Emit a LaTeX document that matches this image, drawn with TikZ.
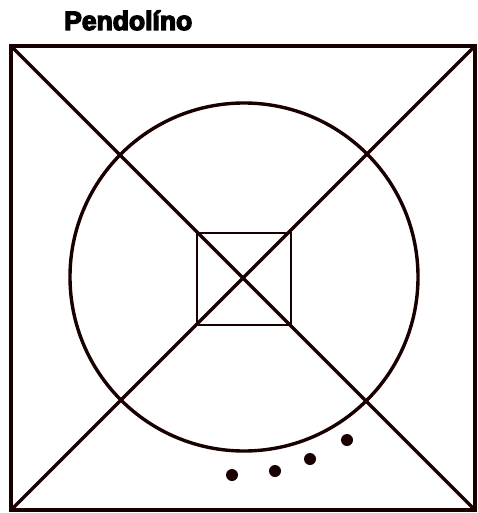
\documentclass[tikz,border=0pt]{standalone}
\usepackage{fontspec}
\setmainfont{Liberation Sans}
\newfontfamily\titlefont[FakeBold=5]{Liberation Sans Bold}
\begin{document}
\begin{tikzpicture}[x=1pt,y=-1pt,
  thick line/.style={draw=black!90!red, line width=3.4pt},
  thin line/.style={draw=black!90!red, line width=2pt},
  dotmark/.style={circle, fill=black!90!red, inner sep=0pt, minimum size=12pt}]
\useasboundingbox (0,0) rectangle (477,513);
\node[anchor=base west, inner sep=0pt] (title) at (64,30)
  {\resizebox{128pt}{!}{\titlefont Pendolíno}};
\coordinate (tl) at (11,46);
\coordinate (tr) at (475,46);
\coordinate (br) at (475,510);
\coordinate (bl) at (11,510);
\draw[thick line] (tl) rectangle (br);
\draw[thick line] (tl) -- (br);
\draw[thick line] (tr) -- (bl);
\draw[thick line] (244,277) circle (174);
\draw[thin line] (197,233) rectangle (291,325);
\node[dotmark] (d1) at (232,475) {};
\node[dotmark] (d2) at (275,471) {};
\node[dotmark] (d3) at (310,459) {};
\node[dotmark] (d4) at (347,440) {};
\end{tikzpicture}
\end{document}
